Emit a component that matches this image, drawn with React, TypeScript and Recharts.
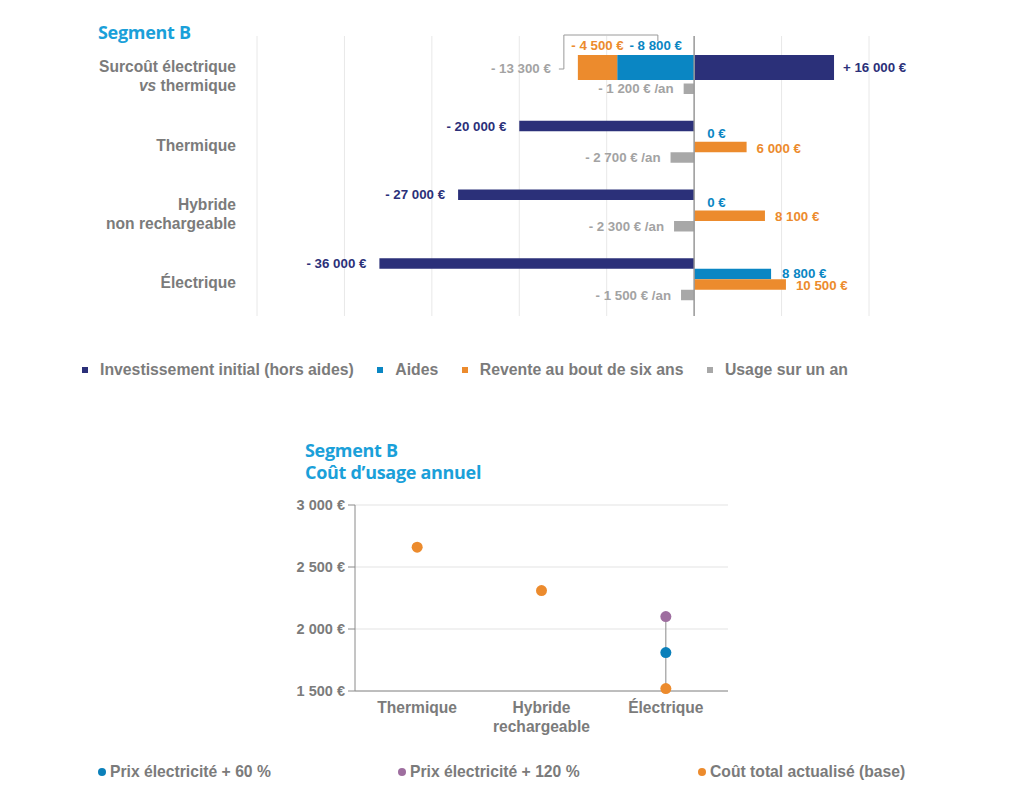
import React from "react";
import {
  BarChart,
  Bar,
  ComposedChart,
  Line,
  XAxis,
  YAxis,
  CartesianGrid,
  ReferenceLine,
  LabelList,
  Legend,
} from "recharts";

// --- Segment B : coûts sur six ans ---
const categories = [
  "Surcoût électrique\nvs thermique",
  "Thermique",
  "Hybride\nnon rechargeable",
  "Électrique",
];
const investissement = [null, -20000, -27000, -36000];
const aides = [null, 0, 0, 8800];
const revente = [null, 6000, 8100, 10500];
const usage = [-1200, -2700, -2300, -1500];
// ligne « surcoût » : barre empilée
const surcoutInvest = [16000, null, null, null];
const surcoutAides = [-8800, null, null, null];
const surcoutRevente = [-4500, null, null, null];
const surcoutTotal = -13300;
const xTicks = [-50000, -40000, -30000, -20000, -10000, 0, 10000, 20000];
const barSeries = [
  "Investissement initial (hors aides)",
  "Aides",
  "Revente au bout de six ans",
  "Usage sur un an",
];

// --- Segment B : coût d'usage annuel ---
const usageCategories = ["Thermique", "Hybride\nrechargeable", "Électrique"];
const coutBase = [2660, 2310, 1520];
const prix60 = [null, null, 1810];
const prix120 = [null, null, 2100];
const yTicks = [1500, 2000, 2500, 3000];
const dotSeries = [
  "Prix électricité + 60 %",
  "Prix électricité + 120 %",
  "Coût total actualisé (base)",
];

const FONT = "'Liberation Sans', Arial, Helvetica, sans-serif";
const TITLE_FONT = "'Open Sans', sans-serif";
const NAVY = "#2b3079";
const BLUE = "#0a86c3";
const ORANGE = "#ec8b2d";
const GREY = "#a8a8a8";
const TEXT_GREY = "#7b7b7b";
const LIGHT_TEXT = "#a3a3a3";
const TITLE_BLUE = "#1aa0d9";
const DOT_BLUE = "#0b80ba";
const DOT_PURPLE = "#9e6e9f";
const VALUE_SIZE = 13.3;

const rows = categories.map((name, i) => ({
  name,
  investissement: investissement[i],
  aides: aides[i],
  revente: revente[i],
  usage: usage[i],
  surcoutInvest: surcoutInvest[i],
  surcoutAides: surcoutAides[i],
  surcoutRevente: surcoutRevente[i],
}));

const usageRows = usageCategories.map((name, i) => ({
  name,
  base: coutBase[i],
  p60: prix60[i],
  p120: prix120[i],
}));

const thousands = (v: number) =>
  Math.abs(v).toString().replace(/\B(?=(\d{3})+(?!\d))/g, " ");

const fmt = (v: number, plus = false, suffix = "") =>
  (v < 0 ? "- " : plus && v > 0 ? "+ " : "") + thousands(v) + " €" + suffix;

const box = (props: any) => {
  const vb = props.viewBox ?? props;
  const x = Math.min(vb.x, vb.x + vb.width);
  const right = Math.max(vb.x, vb.x + vb.width);
  const y = Math.min(vb.y, vb.y + vb.height);
  const h = Math.abs(vb.height);
  return { x, right, y, h };
};

// label outside the end of the bar
const endLabel =
  (
    color: string,
    opts: { plus?: boolean; suffix?: string; offset?: number; dy?: number } = {}
  ) =>
  (props: any) => {
    const value = props.value;
    if (value == null) return null;
    const { x, right, y, h } = box(props);
    const neg = value < 0;
    const off = opts.offset ?? 11;
    return (
      <text
        x={neg ? x - off : right + off}
        y={y + h / 2 + 4.6 + (opts.dy ?? 0)}
        textAnchor={neg ? "end" : "start"}
        fill={color}
        fontFamily={FONT}
        fontSize={VALUE_SIZE}
        fontWeight={700}
      >
        {fmt(value, opts.plus, opts.suffix)}
      </text>
    );
  };

// "0 €" for empty aides, written just above the resale bar
const zeroAidesLabel = (props: any) => {
  if (props.value !== 0) return null;
  const { x, y } = box(props);
  return (
    <text
      x={x + 13}
      y={y - 4}
      fill={BLUE}
      fontFamily={FONT}
      fontSize={VALUE_SIZE}
      fontWeight={700}
    >
      {fmt(0)}
    </text>
  );
};

const topLabel = (color: string) => (props: any) => {
  const value = props.value;
  if (value == null) return null;
  const { x, right, y } = box(props);
  return (
    <text
      x={(x + right) / 2}
      y={y - 5}
      textAnchor="middle"
      fill={color}
      fontFamily={FONT}
      fontSize={VALUE_SIZE}
      fontWeight={700}
    >
      {fmt(value)}
    </text>
  );
};

// orange part of the surcoût bar carries the bracket and the total
const bracketLabel = (props: any) => {
  const value = props.value;
  if (value == null) return null;
  const { x, y } = box(props);
  return (
    <g>
      <path
        d={`M${x - 19},${y + 14} H${x - 14} V${y - 20} H${x + 80} V${y - 14}`}
        fill="none"
        stroke="#9a9a9a"
        strokeWidth={1}
      />
      <text
        x={x - 27}
        y={y + 18}
        textAnchor="end"
        fill={LIGHT_TEXT}
        fontFamily={FONT}
        fontSize={VALUE_SIZE}
        fontWeight={700}
      >
        {fmt(surcoutTotal)}
      </text>
    </g>
  );
};

const CategoryTick = ({ x, y, payload }: any) => {
  const lines = String(payload.value).split("\n");
  const lh = 19;
  const base = y + 3 + 5.6 - ((lines.length - 1) * lh) / 2;
  return (
    <text
      x={x}
      y={base}
      textAnchor="end"
      fill={TEXT_GREY}
      fontFamily={FONT}
      fontSize={15.6}
      fontWeight={700}
    >
      {lines.map((line, i) => (
        <tspan key={i} x={x} y={base + i * lh}>
          {line.startsWith("vs ") ? (
            <>
              <tspan fontStyle="italic">vs</tspan>
              {line.slice(2)}
            </>
          ) : (
            line
          )}
        </tspan>
      ))}
    </text>
  );
};

const ordered = (payload: any[] | undefined, names: string[]) =>
  (payload ?? [])
    .filter((p: any) => names.includes(p.value))
    .sort((a: any, b: any) => names.indexOf(a.value) - names.indexOf(b.value));

const BarLegend = ({ payload }: any) => (
  <div
    style={{
      display: "flex",
      gap: 23.5,
      fontFamily: FONT,
      fontSize: 15.8,
      fontWeight: 700,
      color: TEXT_GREY,
      lineHeight: "20px",
      whiteSpace: "nowrap",
    }}
  >
    {ordered(payload, barSeries).map((p: any) => (
      <span key={p.value} style={{ display: "flex", alignItems: "center" }}>
        <span
          style={{ width: 6, height: 6, background: p.color, marginRight: 12 }}
        />
        {p.value}
      </span>
    ))}
  </div>
);

const DotLegend = ({ payload }: any) => (
  <div
    style={{
      display: "flex",
      fontFamily: FONT,
      fontSize: 15.7,
      fontWeight: 700,
      color: TEXT_GREY,
      lineHeight: "20px",
      whiteSpace: "nowrap",
    }}
  >
    {ordered(payload, dotSeries).map((p: any) => (
      <span
        key={p.value}
        style={{ display: "flex", alignItems: "center", width: 302 }}
      >
        <span
          style={{
            width: 8,
            height: 8,
            borderRadius: 4,
            background: p.color,
            marginRight: 4,
          }}
        />
        {p.value}
      </span>
    ))}
  </div>
);

const UsageXTick = ({ x, y, payload }: any) => {
  const lines = String(payload.value).split("\n");
  return (
    <text
      x={x}
      y={y + 14}
      textAnchor="middle"
      fill={TEXT_GREY}
      fontFamily={FONT}
      fontSize={15.6}
      fontWeight={700}
    >
      {lines.map((line, i) => (
        <tspan key={i} x={x} y={y + 14 + i * 19}>
          {line}
        </tspan>
      ))}
    </text>
  );
};

const title: React.CSSProperties = {
  position: "absolute",
  fontFamily: TITLE_FONT,
  fontWeight: 700,
  fontSize: 18,
  color: TITLE_BLUE,
  lineHeight: "22px",
  letterSpacing: -0.3,
};

export default function App() {
  return (
    <div
      style={{
        position: "absolute",
        left: 0,
        top: 0,
        width: 1024,
        height: 807,
        background: "#fff",
        overflow: "hidden",
      }}
    >
      <div style={{ ...title, left: 98, top: 21 }}>Segment B</div>

      <div style={{ position: "absolute", left: 0, top: 0 }}>
        <BarChart
          width={1000}
          height={400}
          data={rows}
          layout="vertical"
          margin={{ top: 36, right: 131, bottom: 84, left: 0 }}
          barGap={0}
          stackOffset="sign"
        >
          <CartesianGrid horizontal={false} stroke="#e8e8e8" />
          <XAxis
            type="number"
            domain={[-50000, 20000]}
            ticks={xTicks}
            hide
          />
          <YAxis
            type="category"
            dataKey="name"
            width={257}
            axisLine={false}
            tickLine={false}
            tickMargin={15}
            tick={<CategoryTick />}
            padding={{ top: 3, bottom: 2 }}
          />
          <YAxis
            yAxisId="surcout"
            type="category"
            dataKey="name"
            hide
            padding={{ top: 3, bottom: 2 }}
          />
          <ReferenceLine x={0} stroke="#9a9a9a" strokeWidth={1.5} />

          <Bar
            dataKey="investissement"
            name={barSeries[0]}
            fill={NAVY}
            barSize={10.5}
            isAnimationActive={false}
          >
            <LabelList dataKey="investissement" content={endLabel(NAVY, { offset: 13 })} />
          </Bar>
          <Bar
            dataKey="aides"
            name={barSeries[1]}
            fill={BLUE}
            barSize={10.5}
            isAnimationActive={false}
          >
            <LabelList dataKey="aides" content={endLabel(BLUE, { offset: 11, dy: -1 })} />
          </Bar>
          <Bar
            dataKey="revente"
            name={barSeries[2]}
            fill={ORANGE}
            barSize={10.5}
            isAnimationActive={false}
          >
            <LabelList dataKey="revente" content={endLabel(ORANGE, { offset: 10, dy: 1 })} />
            <LabelList dataKey="aides" content={zeroAidesLabel} />
          </Bar>
          <Bar
            dataKey="usage"
            name={barSeries[3]}
            fill={GREY}
            barSize={10.5}
            isAnimationActive={false}
          >
            <LabelList
              dataKey="usage"
              content={endLabel(LIGHT_TEXT, { suffix: " /an", offset: 10 })}
            />
          </Bar>

          <Bar
            yAxisId="surcout"
            dataKey="surcoutInvest"
            stackId="s"
            fill={NAVY}
            barSize={25}
            legendType="none"
            isAnimationActive={false}
          >
            <LabelList dataKey="surcoutInvest" content={endLabel(NAVY, { plus: true, offset: 9 })} />
          </Bar>
          <Bar
            yAxisId="surcout"
            dataKey="surcoutAides"
            stackId="s"
            fill={BLUE}
            barSize={25}
            legendType="none"
            isAnimationActive={false}
          >
            <LabelList dataKey="surcoutAides" content={topLabel(BLUE)} />
          </Bar>
          <Bar
            yAxisId="surcout"
            dataKey="surcoutRevente"
            stackId="s"
            fill={ORANGE}
            barSize={25}
            legendType="none"
            isAnimationActive={false}
          >
            <LabelList dataKey="surcoutRevente" content={topLabel(ORANGE)} />
            <LabelList dataKey="surcoutRevente" content={bracketLabel} />
          </Bar>
          <Bar
            yAxisId="surcout"
            dataKey="espace"
            fill="none"
            barSize={11}
            legendType="none"
            isAnimationActive={false}
          />

          <Legend
            verticalAlign="middle"
            content={<BarLegend />}
            wrapperStyle={{ top: 360, left: 82, width: 900 }}
          />
        </BarChart>
      </div>

      <div style={{ ...title, left: 305, top: 439 }}>
        Segment B
        <br />
        Coût d’usage annuel
      </div>

      <div style={{ position: "absolute", left: 0, top: 430 }}>
        <ComposedChart
          width={1000}
          height={360}
          data={usageRows}
          margin={{ top: 75, right: 272, bottom: 69, left: 0 }}
        >
          <CartesianGrid vertical={false} stroke="#e3e3e3" />
          <XAxis
            dataKey="name"
            type="category"
            scale="band"
            stroke="#8a8a8a"
            tickLine={false}
            tick={<UsageXTick />}
            interval={0}
          />
          <YAxis
            type="number"
            domain={[1500, 3000]}
            ticks={yTicks}
            width={355}
            stroke="#8a8a8a"
            tickSize={7}
            tickMargin={3}
            tick={{
              fill: TEXT_GREY,
              fontFamily: FONT,
              fontSize: 14.5,
              fontWeight: 700,
            }}
            tickFormatter={(v: number) => thousands(v) + " €"}
          />
          <ReferenceLine
            segment={[
              { x: usageCategories[2], y: coutBase[2] },
              { x: usageCategories[2], y: prix120[2] as number },
            ]}
            stroke="#8a8a8a"
            strokeWidth={1}
          />
          <Line
            dataKey="p60"
            name={dotSeries[0]}
            stroke={DOT_BLUE}
            strokeWidth={0}
            dot={{ r: 5.5, fill: DOT_BLUE, stroke: "none" }}
            activeDot={false}
            isAnimationActive={false}
          />
          <Line
            dataKey="p120"
            name={dotSeries[1]}
            stroke={DOT_PURPLE}
            strokeWidth={0}
            dot={{ r: 5.5, fill: DOT_PURPLE, stroke: "none" }}
            activeDot={false}
            isAnimationActive={false}
          />
          <Line
            dataKey="base"
            name={dotSeries[2]}
            stroke={ORANGE}
            strokeWidth={0}
            dot={{ r: 5.5, fill: ORANGE, stroke: "none" }}
            activeDot={false}
            isAnimationActive={false}
          />
          <Legend
            verticalAlign="middle"
            content={<DotLegend />}
            wrapperStyle={{ top: 332, left: 98, width: 900 }}
          />
        </ComposedChart>
      </div>
    </div>
  );
}
